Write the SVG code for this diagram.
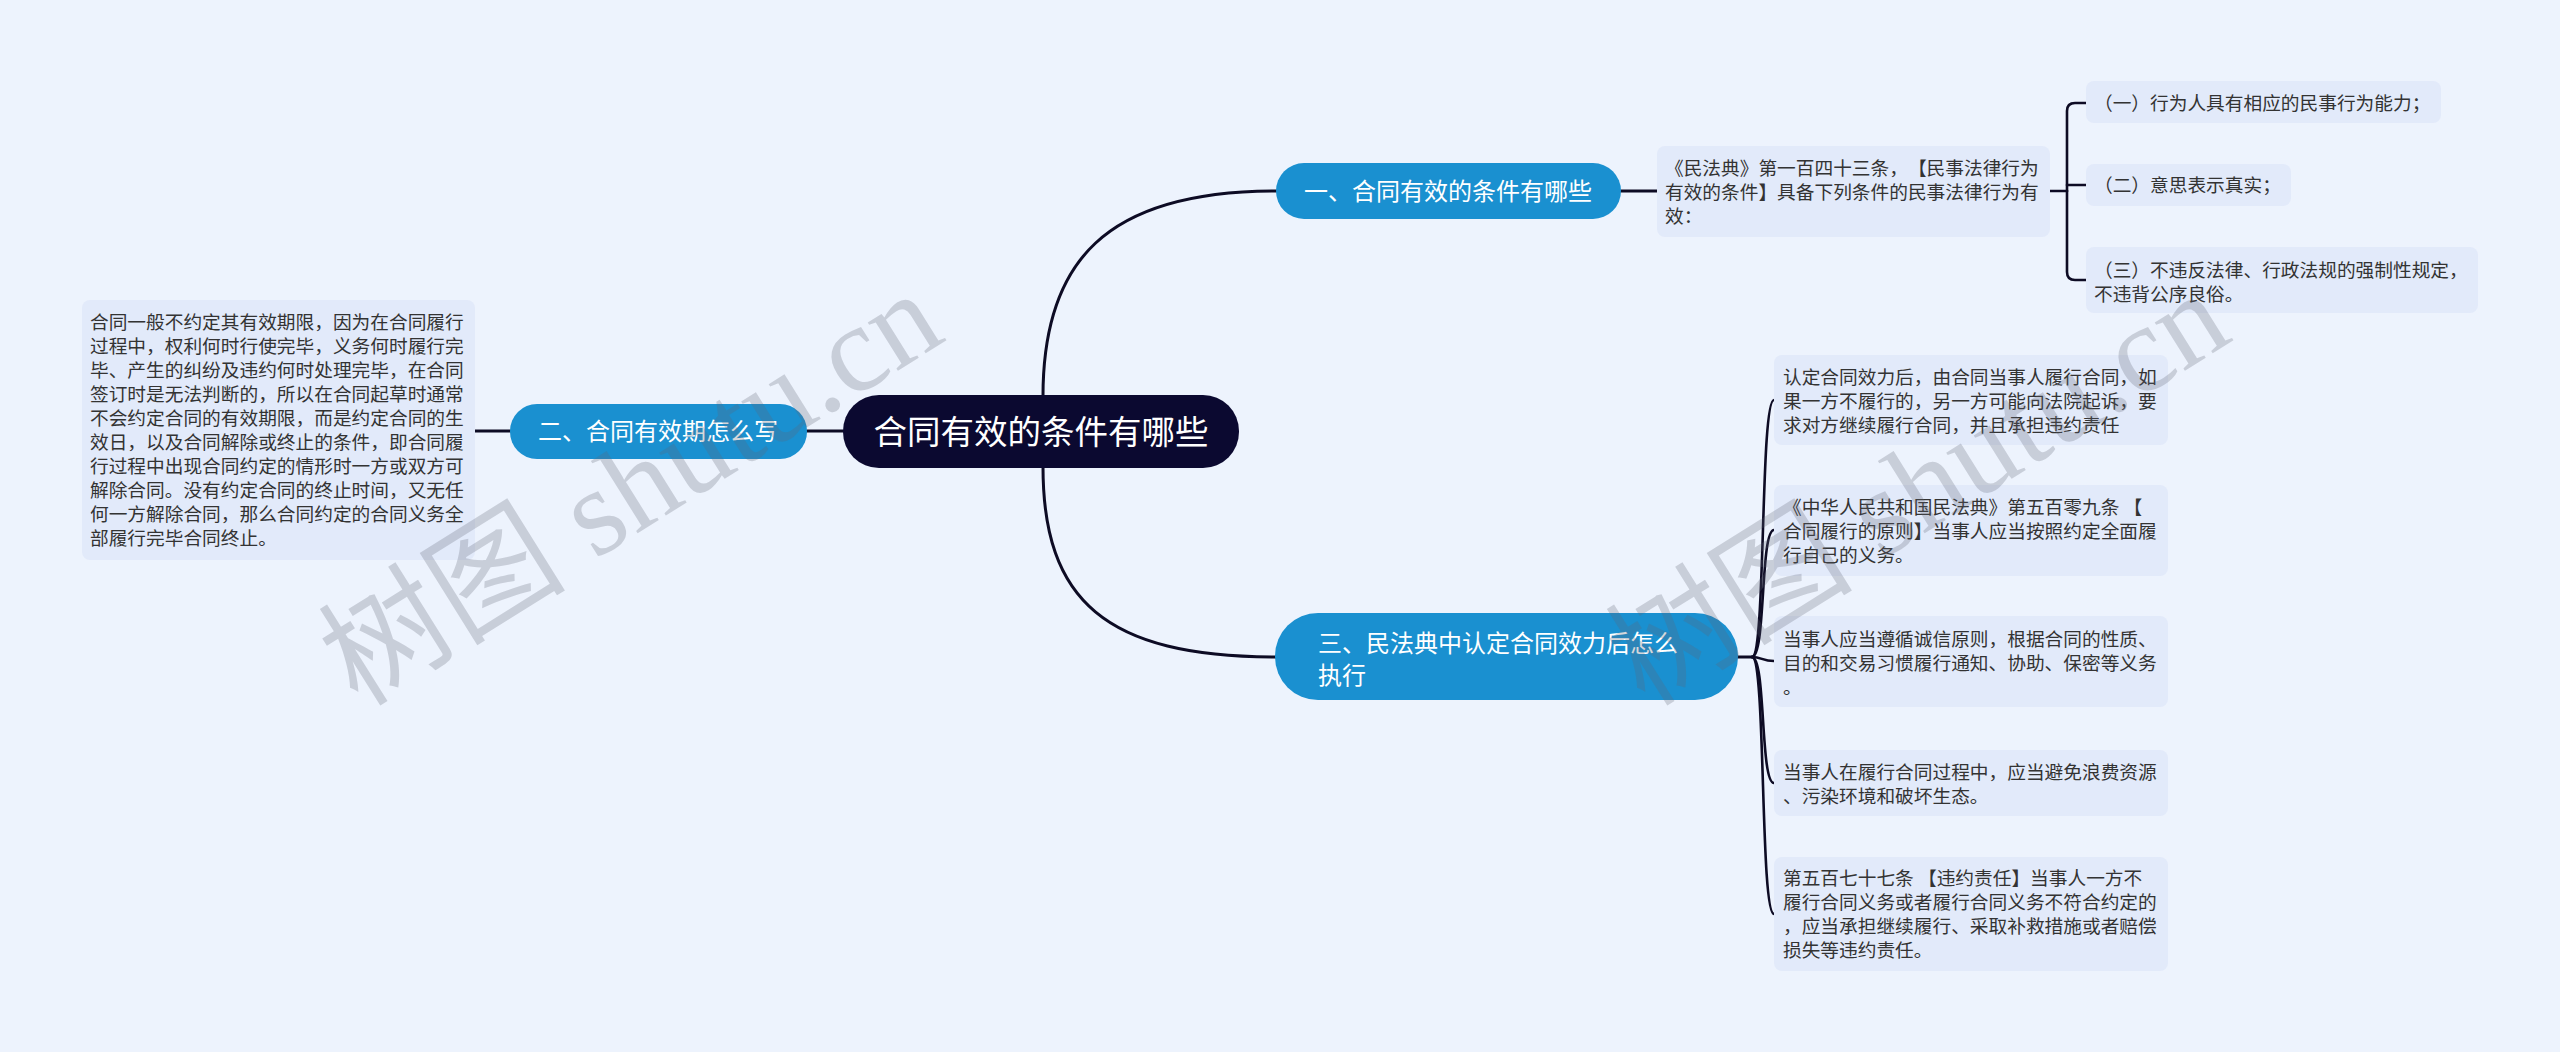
<svg xmlns="http://www.w3.org/2000/svg" width="2560" height="1052" viewBox="0 0 2560 1052">
<defs>
<style>
.bg{fill:#edf3fd}
.root{fill:#0b0930}
.br{fill:#1a90d0}
.box{fill:#e2eafa}
text{text-spacing-trim:space-all}
.t-root{font-family:"Noto Sans CJK SC","Noto Sans",sans-serif;font-size:33.5px;fill:#ffffff}
.t-br{font-family:"Noto Sans CJK SC","Noto Sans",sans-serif;font-size:24px;fill:#ffffff}
.t-d{font-family:"Noto Sans CJK SC","Noto Sans",sans-serif;font-size:18.7px;fill:#333333}
.ln{fill:none;stroke:#0d0b24;stroke-width:3;stroke-linecap:round}
.ln2{fill:none;stroke:#0d0b24;stroke-width:2.6;stroke-linecap:round}
.wm{font-family:"Liberation Serif","Noto Sans CJK SC",serif;font-size:124px;fill:#5f6673;fill-opacity:0.26}
</style>
</defs>
<rect class="bg" x="0" y="0" width="2560" height="1052"/>

<g id="connectors">
<path class="ln" d="M1043 396 C1043 262 1105 191 1276 191"/>
<path class="ln" d="M1043 467 C1043 600 1105 657 1276 657"/>
<path class="ln" d="M807 431 H843"/>
<path class="ln" d="M474 431 H510"/>
<path class="ln" d="M1621 191 H1657"/>
<path class="ln2" d="M2050 191 H2067"/>
<path class="ln2" d="M2067 191 V111 Q2067 103 2075 103 H2086"/>
<path class="ln2" d="M2067 185 H2086"/>
<path class="ln2" d="M2067 191 V272 Q2067 280 2075 280 H2086"/>
<path class="ln" d="M1738 657 H1752"/>
<path class="ln2" d="M1752 657 C1766 657 1760 400 1774 400"/>
<path class="ln2" d="M1752 657 C1766 657 1760 530 1774 530"/>
<path class="ln2" d="M1752 657 C1762 657 1762 661 1774 661"/>
<path class="ln2" d="M1752 657 C1766 657 1760 783 1774 783"/>
<path class="ln2" d="M1752 657 C1766 657 1760 914 1774 914"/>
</g>

<g id="root">
<rect class="root" x="843" y="395" width="396" height="73" rx="36"/>
<text class="t-root" x="1041" y="444" text-anchor="middle">合同有效的条件有哪些</text>
</g>

<g id="b1">
<rect class="br" x="1276" y="163" width="345" height="56" rx="28"/>
<text class="t-br" x="1448" y="200" text-anchor="middle">一、合同有效的条件有哪些</text>
</g>

<g id="b2">
<rect class="br" x="510" y="404" width="297" height="55" rx="27"/>
<text class="t-br" x="658" y="440" text-anchor="middle">二、合同有效期怎么写</text>
</g>

<g id="b3">
<rect class="br" x="1275" y="613" width="463" height="87" rx="43"/>
<text class="t-br" x="1318" y="652">三、民法典中认定合同效力后怎么</text>
<text class="t-br" x="1318" y="684">执行</text>
</g>

<g id="b2-detail">
<rect class="box" x="82" y="300" width="393" height="260" rx="8"/>
<text class="t-d" x="90" y="329">合同一般不约定其有效期限，因为在合同履行</text>
<text class="t-d" x="90" y="353">过程中，权利何时行使完毕，义务何时履行完</text>
<text class="t-d" x="90" y="377">毕、产生的纠纷及违约何时处理完毕，在合同</text>
<text class="t-d" x="90" y="401">签订时是无法判断的，所以在合同起草时通常</text>
<text class="t-d" x="90" y="425">不会约定合同的有效期限，而是约定合同的生</text>
<text class="t-d" x="90" y="449">效日，以及合同解除或终止的条件，即合同履</text>
<text class="t-d" x="90" y="473">行过程中出现合同约定的情形时一方或双方可</text>
<text class="t-d" x="90" y="497">解除合同。没有约定合同的终止时间，又无任</text>
<text class="t-d" x="90" y="521">何一方解除合同，那么合同约定的合同义务全</text>
<text class="t-d" x="90" y="545">部履行完毕合同终止。</text>
</g>

<g id="b1-detail">
<rect class="box" x="1657" y="146" width="393" height="91" rx="8"/>
<text class="t-d" x="1665" y="175">《民法典》第一百四十三条，【民事法律行为</text>
<text class="t-d" x="1665" y="199">有效的条件】具备下列条件的民事法律行为有</text>
<text class="t-d" x="1665" y="223">效：</text>
</g>

<g id="b1-c1">
<rect class="box" x="2086" y="81" width="355" height="42" rx="8"/>
<text class="t-d" x="2094" y="110">（一）行为人具有相应的民事行为能力；</text>
</g>
<g id="b1-c2">
<rect class="box" x="2086" y="164" width="205" height="42" rx="8"/>
<text class="t-d" x="2094" y="192">（二）意思表示真实；</text>
</g>
<g id="b1-c3">
<rect class="box" x="2086" y="247" width="392" height="66" rx="8"/>
<text class="t-d" x="2094" y="277">（三）不违反法律、行政法规的强制性规定，</text>
<text class="t-d" x="2094" y="301">不违背公序良俗。</text>
</g>

<g id="b3-d1">
<rect class="box" x="1774" y="355" width="394" height="90" rx="8"/>
<text class="t-d" x="1783" y="384">认定合同效力后，由合同当事人履行合同，如</text>
<text class="t-d" x="1783" y="408">果一方不履行的，另一方可能向法院起诉，要</text>
<text class="t-d" x="1783" y="432">求对方继续履行合同，并且承担违约责任</text>
</g>
<g id="b3-d2">
<rect class="box" x="1774" y="485" width="394" height="91" rx="8"/>
<text class="t-d" x="1783" y="514">《中华人民共和国民法典》第五百零九条 【</text>
<text class="t-d" x="1783" y="538">合同履行的原则】当事人应当按照约定全面履</text>
<text class="t-d" x="1783" y="562">行自己的义务。</text>
</g>
<g id="b3-d3">
<rect class="box" x="1774" y="616" width="394" height="91" rx="8"/>
<text class="t-d" x="1783" y="646">当事人应当遵循诚信原则，根据合同的性质、</text>
<text class="t-d" x="1783" y="670">目的和交易习惯履行通知、协助、保密等义务</text>
<text class="t-d" x="1783" y="694">。</text>
</g>
<g id="b3-d4">
<rect class="box" x="1774" y="750" width="394" height="66" rx="8"/>
<text class="t-d" x="1783" y="779">当事人在履行合同过程中，应当避免浪费资源</text>
<text class="t-d" x="1783" y="803">、污染环境和破坏生态。</text>
</g>
<g id="b3-d5">
<rect class="box" x="1774" y="857" width="394" height="114" rx="8"/>
<text class="t-d" x="1783" y="885">第五百七十七条 【违约责任】当事人一方不</text>
<text class="t-d" x="1783" y="909">履行合同义务或者履行合同义务不符合约定的</text>
<text class="t-d" x="1783" y="933">，应当承担继续履行、采取补救措施或者赔偿</text>
<text class="t-d" x="1783" y="957">损失等违约责任。</text>
</g>

<g id="watermarks">
<text class="wm" x="358" y="708" transform="rotate(-32 358 708)">树图 shutu.cn</text>
<text class="wm" x="1645" y="708" transform="rotate(-32 1645 708)">树图 shutu.cn</text>
</g>
</svg>
